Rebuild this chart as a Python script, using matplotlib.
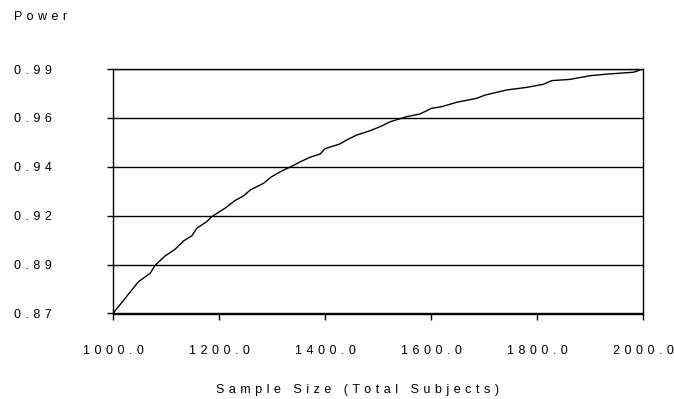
import matplotlib
matplotlib.use("Agg")
import matplotlib.pyplot as plt
import numpy as np

plt.rcParams['font.family'] = ['Liberation Sans', 'DejaVu Sans']

# data
sample_size = [1000, 1048, 1070, 1079, 1098, 1117, 1133, 1149, 1158, 1177,
               1186, 1211, 1230, 1246, 1259, 1284, 1299, 1318, 1337, 1353,
               1372, 1391, 1400, 1428, 1441, 1460, 1485, 1504, 1523, 1554,
               1579, 1601, 1620, 1649, 1686, 1702, 1743, 1781, 1812, 1828,
               1862, 1900, 1932, 1982, 2000]
power = [0.8700, 0.8856, 0.8897, 0.8935, 0.8982, 0.9015, 0.9056, 0.9082, 0.9118, 0.9151,
         0.9175, 0.9216, 0.9254, 0.9277, 0.9306, 0.9339, 0.9371, 0.9399, 0.9422, 0.9444,
         0.9467, 0.9483, 0.9509, 0.9532, 0.9552, 0.9576, 0.9597, 0.9617, 0.9641, 0.9666,
         0.9679, 0.9707, 0.9715, 0.9737, 0.9756, 0.9772, 0.9797, 0.9810, 0.9825, 0.9843,
         0.9849, 0.9867, 0.9875, 0.9884, 0.9900]

x_ticks = [1000, 1200, 1400, 1600, 1800, 2000]
y_ticks = np.linspace(0.87, 0.99, 6)
y_labels = ['0.87', '0.89', '0.92', '0.94', '0.96', '0.99']


def spaced(s):
    # the original renders text with wide letter spacing
    return ' \u200a'.join(s)


fig = plt.figure(figsize=(6.74, 3.99), dpi=100)
ax = fig.add_axes([113 / 674, 1 - 313.5 / 399, 530 / 674, 244.5 / 399])

ax.plot(sample_size, power, color='black', lw=1.0)

ax.set_xlim(1000, 2000)
ax.set_ylim(0.87, 0.99)
ax.set_xticks(x_ticks)
ax.set_xticklabels([spaced('%.1f' % v) for v in x_ticks], fontsize=9)
ax.set_yticks(y_ticks)
ax.set_yticklabels([spaced(s) for s in y_labels], fontsize=9)
ax.grid(axis='y', color='black', lw=1.0)
ax.set_axisbelow(True)

for sp in ax.spines.values():
    sp.set_color('black')
    sp.set_linewidth(1.0)

ax.tick_params(axis='x', length=4, width=1.0, pad=19, colors='black')
ax.tick_params(axis='y', length=4.3, width=1.0, pad=40, colors='black')

fig.text(14 / 674, 1 - 16.7 / 399, spaced('Power'), ha='left', va='center', fontsize=9)
fig.text(357 / 674, 1 - 390 / 399, spaced('Sample Size (Total Subjects)'),
         ha='center', va='center', fontsize=9)

fig.savefig('out.png', dpi=100, facecolor='white')
